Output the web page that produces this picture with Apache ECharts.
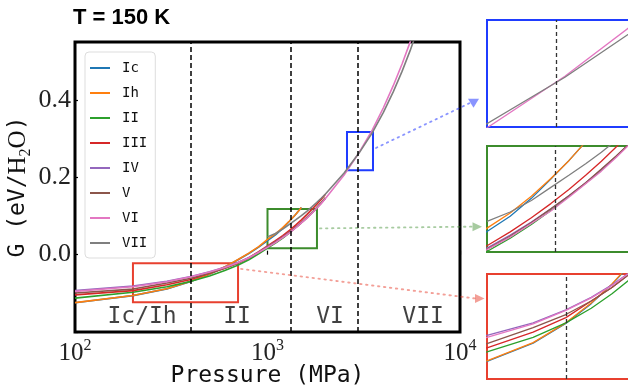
<!DOCTYPE html>
<html><head><meta charset="utf-8">
<script src="https://cdn.jsdelivr.net/npm/echarts@6/dist/echarts.min.js"></script>
<style>html,body{margin:0;padding:0;background:#fff}#c{width:628px;height:386px}</style>
</head><body><div id="c"></div>
<script>
// ---- data (pressure in MPa, G in eV/H2O) ----
const pressures = [100,200,300,400,500,600,700,800,900,1000,1100,1200,1300,1400,1500,1600,1700,1800,1900,2000,2500,3000,3500,4000,4500,5000,5500,6000];
const G_Ic  = [-0.1245,-0.106,-0.0885,-0.0695,-0.0505,-0.032,-0.0138,0.003,0.0195,0.0364,0.051,0.068,0.0865,0.104,0.122];
const G_Ih  = [-0.124,-0.1055,-0.088,-0.069,-0.050,-0.0315,-0.013,0.004,0.021,0.0396,0.054,0.070,0.087,0.104,0.122];
const G_II  = [-0.1125,-0.097,-0.083,-0.069,-0.055,-0.041,-0.0275,-0.013,0.002,0.0173,0.030,0.043,0.0565,0.070,0.0825,0.095,0.108,0.121,0.134,0.147];
const G_III = [-0.104,-0.093,-0.078,-0.064,-0.048,-0.035,-0.022,-0.008,0.0075,0.0228,0.036,0.0495,0.063,0.0765,0.090,0.1035,0.117,0.130,0.143,0.156];
const G_IV  = [-0.093,-0.081,-0.069,-0.0565,-0.0445,-0.0325,-0.0205,-0.008,0.0065,0.0205,0.033,0.0455,0.058,0.0705,0.083,0.0955,0.108,0.1205,0.133,0.1455];
const G_V   = [-0.099,-0.089,-0.0735,-0.061,-0.048,-0.035,-0.022,-0.0085,0.0055,0.0195,0.032,0.045,0.058,0.0705,0.083,0.096,0.1085,0.121,0.134,0.1465];
const G_VI  = [-0.095,-0.083,-0.070,-0.057,-0.045,-0.033,-0.021,-0.008,0.006,0.019,0.031,0.044,0.056,0.069,0.082,0.094,0.107,0.120,0.132,0.145,0.206,0.265,0.322,0.380,0.437,0.493,0.549,0.605];
const G_VII = [null,null,null,null,null,null,null,null,null,0.046,0.055,0.066,0.0785,0.090,0.101,0.112,0.1235,0.135,0.146,0.157,0.211,0.264,0.315,0.368,0.421,0.474,0.527,0.580];

const phaseNames = ['Ic','Ih','II','III','IV','V','VI','VII'];
const phaseValues = [G_Ic, G_Ih, G_II, G_III, G_IV, G_V, G_VI, G_VII];

const boundaries = [400, 1325, 2950];
const regionLabels = ['Ic/Ih','II','VI','VII'];
const regionLabelP = [223, 695, 2113, 6430];
const regionLabelG = -0.161;

const zoomP = [[2588,3532],[1000,1807],[200,703]];
const zoomG = [[0.218,0.317],[0.0168,0.118],[-0.123,-0.022]];

const yTicks = [0.0, 0.2, 0.4];
const xTickExp = [2, 3, 4];

// ---- styles ----
const colors = ['#1f77b4','#ff7f0e','#2ca02c','#d62728','#9467bd','#8c564b','#e377c2','#7f7f7f'];
const zoomColors = ['#1f3cff','#3c8c2c','#e8402f'];
const arrowColors = ['rgba(40,60,255,0.55)','rgba(60,140,44,0.45)','rgba(232,64,47,0.5)'];
const insetRects = [
  {left:487, top:20, width:164, height:107},
  {left:487, top:146, width:144, height:106},
  {left:487, top:274, width:143, height:105}
];
const MONO = '"DejaVu Sans Mono", monospace';
const SERIF = '"Liberation Serif", serif';

const chart = echarts.init(document.getElementById('c'));

function seriesData(vals) {
  const out = [];
  pressures.forEach((p, i) => { if (vals[i] != null) out.push([p, vals[i]]); });
  return out;
}

const grids = [{left:75, top:42, width:385, height:290, show:true, borderColor:'#000', borderWidth:3,
  backgroundColor:'transparent', containLabel:false, outerBoundsMode:'none'}];
insetRects.forEach((r, k) => grids.push(Object.assign({show:true, borderColor:zoomColors[k], borderWidth:2,
  backgroundColor:'transparent', containLabel:false, outerBoundsMode:'none'}, r)));

const xAxes = [{
  type:'log', logBase:10, min:100, max:10000, gridIndex:0,
  axisLine:{show:false},
  axisTick:{show:true, inside:true, length:4, lineStyle:{color:'#000', width:1.2}},
  splitLine:{show:false},
  axisLabel:{margin:6, color:'#222', formatter: v => {
      const e = Math.round(Math.log10(v));
      return xTickExp.indexOf(e) >= 0 ? '{b|10}{s|' + e + '}' : '';
    },
    rich:{ b:{fontFamily:SERIF, fontSize:25, lineHeight:30, color:'#222'},
           s:{fontFamily:SERIF, fontSize:16, lineHeight:16, verticalAlign:'top', color:'#222'} } },
  name:'Pressure (MPa)', nameLocation:'middle', nameGap:33, nameMoveOverlap:false,
  nameTextStyle:{fontFamily:MONO, fontSize:23, color:'#111'}
}];
const yAxes = [{
  type:'value', min:-0.2, max:0.55, interval:0.2, gridIndex:0,
  axisLine:{show:false},
  axisTick:{show:true, inside:true, length:3, lineStyle:{color:'#000', width:1.2}},
  splitLine:{show:false},
  axisLabel:{margin:4, fontFamily:SERIF, fontSize:26, color:'#222',
    formatter: v => yTicks.some(t => Math.abs(t - v) < 1e-6) ? v.toFixed(1) : ''},
  name:'{m|G (eV/}{h|H}{s|2}{h|O}{m|)}', nameLocation:'middle', nameRotate:90, nameGap:41, nameMoveOverlap:false,
  nameTextStyle:{rich:{
    m:{fontFamily:MONO, fontSize:23, lineHeight:32, color:'#111'},
    h:{fontFamily:SERIF, fontSize:25, lineHeight:32, color:'#111'},
    s:{fontFamily:SERIF, fontSize:16, lineHeight:16, verticalAlign:'bottom', color:'#111'} }}
}];
insetRects.forEach((r, k) => {
  xAxes.push({type:'log', logBase:10, min:zoomP[k][0], max:zoomP[k][1], gridIndex:k+1, show:false, splitLine:{show:false}});
  yAxes.push({type:'value', min:zoomG[k][0], max:zoomG[k][1], gridIndex:k+1, show:false, splitLine:{show:false}});
});

const series = [];
for (let g = 0; g < 4; g++) {
  phaseNames.forEach((n, i) => {
    series.push({
      name:n, type:'line', xAxisIndex:g, yAxisIndex:g, data:seriesData(phaseValues[i]),
      showSymbol:false, symbol:'none', clip:true, silent:true, animation:false,
      lineStyle:{color:colors[i], width: g === 0 ? 1.6 : 1.3},
      itemStyle:{color:colors[i]}, z:3
    });
  });
}
series.push({
  type:'line', xAxisIndex:0, yAxisIndex:0, data:[], silent:true, animation:false,
  markLine:{symbol:'none', silent:true, animation:false, label:{show:false},
    lineStyle:{color:'#000', width:1.5, type:[5,3]},
    data: boundaries.map(b => ({xAxis:b}))}
});
series.push({
  type:'line', xAxisIndex:0, yAxisIndex:0, data:[], silent:true, animation:false, z:5,
  markArea:{silent:true, animation:false,
    data: zoomP.map((p, k) => [
      {xAxis:p[0], yAxis:zoomG[k][0], itemStyle:{color:'rgba(0,0,0,0)', borderColor:zoomColors[k], borderWidth:2}},
      {xAxis:p[1], yAxis:zoomG[k][1]}])}
});
insetRects.forEach((r, k) => {
  const inside = boundaries.filter(b => b > zoomP[k][0] && b < zoomP[k][1]);
  series.push({
    type:'line', xAxisIndex:k+1, yAxisIndex:k+1, data:[], silent:true, animation:false,
    markLine:{symbol:'none', silent:true, animation:false, label:{show:false},
      lineStyle:{color:'#333', width:1.3, type:[4,3]},
      data: inside.map(b => ({xAxis:b}))}
  });
});
series.push({
  type:'scatter', xAxisIndex:0, yAxisIndex:0, symbolSize:0, silent:true, animation:false, z:6,
  data: regionLabels.map((t, i) => [regionLabelP[i], regionLabelG, t]),
  label:{show:true, position:'inside', formatter: p => p.data[2], fontFamily:MONO, fontSize:23, color:'#111'}
});

const option = {
  animation:false,
  backgroundColor:'#fff',
  title:{text:'T = 150 K', left:73, top:7, padding:0,
    textStyle:{fontFamily:'"Liberation Sans", Arial, sans-serif', fontWeight:'bold', fontSize:22, color:'#000'}},
  legend:{
    data:phaseNames, orient:'vertical', left:85, top:52, icon:'rect', itemWidth:20, itemHeight:2,
    itemGap:9, padding:[8,8,7,5], backgroundColor:'rgba(255,255,255,0.85)', borderColor:'#ddd', borderWidth:1, borderRadius:4,
    textStyle:{fontFamily:MONO, fontSize:14, lineHeight:16, color:'#111', padding:[0,0,0,7]},
    selectedMode:false
  },
  grid:grids, xAxis:xAxes, yAxis:yAxes, series:series
};
chart.setOption(option);

const connectors = [
  {fromG:0.276, toG:0.240, gap:13.5, marker:'down'},
  {fromG:0.068, toG:0.041, gap:10, marker:'right'},
  {fromG:-0.037, toG:-0.0456, gap:7.5, marker:'right'}
];
const graphics = [];
connectors.forEach((c, k) => {
  const s = chart.convertToPixel({xAxisIndex:0, yAxisIndex:0}, [zoomP[k][1], c.fromG]);
  const e = chart.convertToPixel({xAxisIndex:k+1, yAxisIndex:k+1}, [zoomP[k][0], c.toG]);
  const sx = s[0] + 3, sy = s[1];
  const ex = e[0] - c.gap, ey = e[1];
  graphics.push({type:'line', silent:true, z:20,
    shape:{x1:sx, y1:sy, x2:ex - 4, y2:ey},
    style:{stroke:arrowColors[k], lineWidth:1.8, lineDash:[1.5,4.5], lineCap:'round'}});
  const pts = c.marker === 'down'
    ? [[ex-5.5, ey-4.5],[ex+5.5, ey-4.5],[ex, ey+4.5]]
    : [[ex-4.5, ey-4.5],[ex+5, ey],[ex-4.5, ey+4.5]];
  graphics.push({type:'polygon', silent:true, z:21, shape:{points:pts}, style:{fill:arrowColors[k]}});
});
chart.setOption({graphic:graphics});
</script>
</body></html>
